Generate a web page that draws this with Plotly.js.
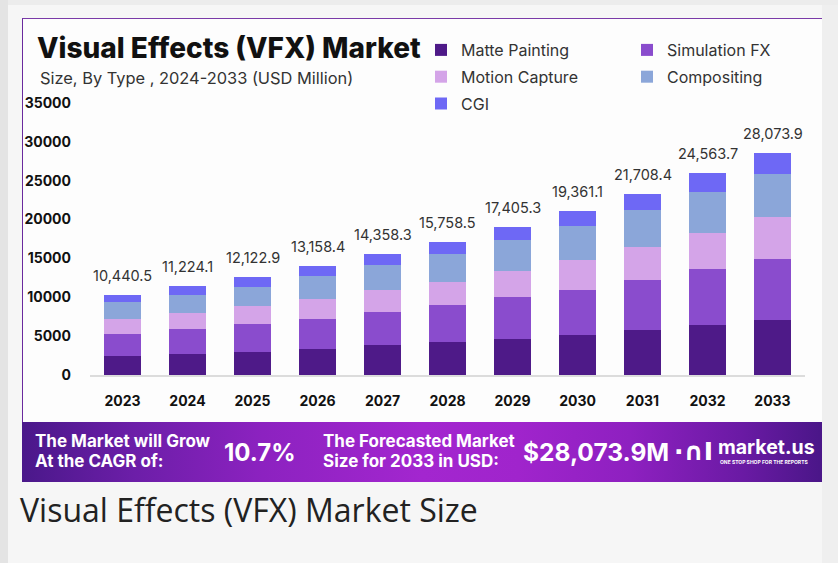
<!DOCTYPE html>
<html>
<head>
<meta charset="utf-8">
<script src="https://cdn.plot.ly/plotly-3.0.1.min.js"></script>
<style>
  html, body { margin: 0; padding: 0; width: 838px; height: 563px; overflow: hidden; background: #f6f6f6; }
  #bgLeft { position: absolute; left: 0; top: 0; width: 8px; height: 563px; background: #e4e4e4; }
  #bgTop { position: absolute; left: 8px; top: 0; width: 830px; height: 5px; background: #ececec; }
  #bgRight { position: absolute; left: 822px; top: 5px; width: 16px; height: 558px; background: #efefef; }
  #card { position: absolute; left: 22px; top: 18px; width: 800px; height: 404px; background: #fdfdfd;
          border-left: 1.5px solid #6a2a9e; border-top: 1px solid #7a3aa8; box-sizing: border-box; }
  #banner { position: absolute; left: 22px; top: 422px; width: 800px; height: 60px;
            background: linear-gradient(90deg, #4a188a 0%, #6c1ea8 14%, #8c22c0 30%, #a326cf 50%, #a024cc 62%, #8e20c0 76%, #6a1aa4 90%, #4a1688 100%); }
  #chart { position: absolute; left: 0; top: 0; width: 838px; height: 563px; }
</style>
</head>
<body>
<div id="bgLeft"></div><div id="bgTop"></div><div id="bgRight"></div>
<div id="card"></div><div id="banner"></div>
<div id="chart"></div>
<script>
// ---- data ----
const years = ["2023","2024","2025","2026","2027","2028","2029","2030","2031","2032","2033"];
const mattePainting  = [2420, 2730, 3020, 3370, 3800, 4220, 4660, 5170, 5760, 6460, 7140];
const simulationFX   = [2880, 3220, 3560, 3900, 4340, 4760, 5350, 5830, 6430, 7120, 7850];
const motionCapture  = [1930, 2060, 2260, 2530, 2780, 3050, 3310, 3770, 4250, 4630, 5310];
const compositing    = [2140, 2230, 2530, 2910, 3220, 3560, 3990, 4440, 4760, 5310, 5620];
const cgi            = [ 900, 1160, 1200, 1290, 1380, 1580, 1760, 1840, 2150, 2410, 2660];
const totalLabels    = ["10,440.5","11,224.1","12,122.9","13,158.4","14,358.3","15,758.5","17,405.3","19,361.1","21,708.4","24,563.7","28,073.9"];
const yTicks = [0, 5000, 10000, 15000, 20000, 25000, 30000, 35000];

const seriesNames  = ["Matte Painting","Simulation FX","Motion Capture","Compositing","CGI"];
const seriesValues = [mattePainting, simulationFX, motionCapture, compositing, cgi];
const seriesColors = ["#4e1a88","#8a4ccd","#d4a4e8","#8ba6d9","#6e68f5"];
const seriesLegend = ["legend","legend2","legend","legend2","legend"];

// ---- geometry helpers (pixel -> paper) ----
const L = 90, R = 805, T = 103, B = 375;
const ax = px => (px - L) / (R - L);
const ay = py => (B - py) / (B - T);

const traces = seriesNames.map((n, i) => ({
  type: "bar", name: n, x: years, y: seriesValues[i],
  marker: { color: seriesColors[i], line: { width: 0 } },
  legend: seriesLegend[i], legendgroup: n,
  hoverinfo: "x+y+name"
}));

const stackTop = years.map((_, j) => seriesValues.reduce((s, arr) => s + arr[j], 0));

const poppins = "Inter, 'DejaVu Sans', sans-serif";
const annotations = years.map((yr, j) => ({
  x: j, y: stackTop[j], xref: "x", yref: "y",
  text: totalLabels[j], showarrow: false, xanchor: "center", yanchor: "bottom", yshift: 9,
  font: { family: poppins, size: 14.5, color: "#333333" }
}));

const txt = (px, py, text, size, opts) => Object.assign({
  x: ax(px), y: ay(py), xref: "paper", yref: "paper", xanchor: "left", yanchor: "middle",
  text: text, showarrow: false, align: "left",
  font: { family: poppins, size: size, color: "#ffffff", weight: "bold" }
}, opts || {});

annotations.push(
  txt(35, 48, "Visual Effects (VFX) Market", 28, { font: { family: poppins, size: 28, color: "#111111", weight: 800 } }),
  txt(38, 78, "Size, By Type , 2024-2033 (USD Million)", 16.4, { font: { family: poppins, size: 16.4, color: "#333333" } }),
  txt(33, 441, "The Market will Grow", 17),
  txt(33, 461, "At the CAGR of:", 17),
  txt(222, 452, "10.7%", 24),
  txt(321, 441, "The Forecasted Market", 17),
  txt(321, 461, "Size for 2033 in USD:", 17),
  txt(521, 452, "$28,073.9M", 24.5),
  txt(672, 451, "·∩I", 25, { font: { family: "'DejaVu Sans', sans-serif", size: 25, color: "#ffffff", weight: "bold" } }),
  txt(716, 447, "market.us", 19.5),
  txt(718, 462, "ONE STOP SHOP FOR THE REPORTS", 5),
  txt(18, 509, "Visual Effects (VFX) Market Size", 32, { font: { family: "'Open Sans', sans-serif", size: 32, color: "#222222" } })
);

const legendBase = {
  orientation: "v", xref: "container", yref: "container", xanchor: "left", yanchor: "top",
  bgcolor: "rgba(0,0,0,0)", borderwidth: 0, tracegroupgap: 3, itemclick: false,
  font: { family: poppins, size: 16, color: "#333333" }, traceorder: "grouped"
};

const layout = {
  width: 838, height: 563,
  paper_bgcolor: "rgba(0,0,0,0)", plot_bgcolor: "rgba(0,0,0,0)",
  margin: { l: L, r: 838 - R, t: T, b: 563 - B, pad: 0, autoexpand: false },
  barmode: "stack", bargap: 0.445,
  showlegend: true,
  legend: Object.assign({}, legendBase, { x: 421 / 838, y: 1 - 33 / 563 }),
  legend2: Object.assign({}, legendBase, { x: 627 / 838, y: 1 - 33 / 563 }),
  xaxis: {
    type: "category", range: [-0.5, 10.5], fixedrange: true, automargin: false, tickangle: 0,
    showline: true, linecolor: "#dcdcdc", linewidth: 1.5, showgrid: false, zeroline: false,
    ticks: "", ticklabelstandoff: 13,
    tickfont: { family: poppins, size: 14, color: "#111111", weight: "bold" }
  },
  yaxis: {
    range: [0, 35000], tickvals: yTicks, ticktext: yTicks.map(String), fixedrange: true, automargin: false,
    showline: false, showgrid: false, zeroline: false, ticks: "", ticklabelstandoff: 18,
    tickfont: { family: poppins, size: 14, color: "#111111", weight: "bold" }
  },
  annotations: annotations
};

Plotly.newPlot("chart", traces, layout, { displayModeBar: false, staticPlot: true });
</script>
</body>
</html>
